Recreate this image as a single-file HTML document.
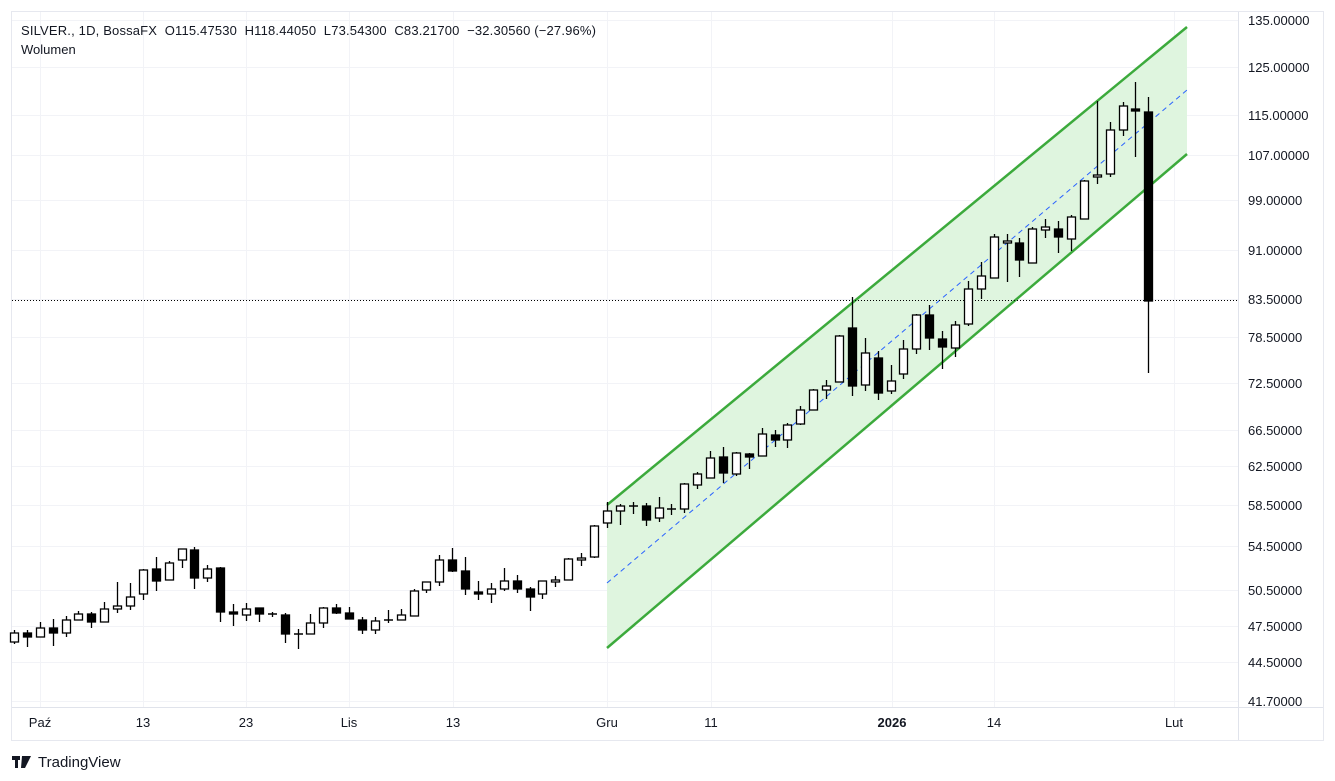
<!DOCTYPE html>
<html><head><meta charset="utf-8"><style>
body{margin:0;background:#fff;width:1335px;height:781px;overflow:hidden;font-family:"Liberation Sans",sans-serif}
svg{position:absolute;left:0;top:0}
</style></head><body>
<svg width="1335" height="781" xmlns="http://www.w3.org/2000/svg" id="s">
<rect x="11.5" y="11.5" width="1312" height="729" fill="#fff" stroke="#e6e8ef"/>
<g id="grid" stroke="#f2f3f7" stroke-width="1"></g>
<polygon points="607,505 1187,27 1187,154 607,648" fill="#dff5df"/>
<line x1="607" y1="505" x2="1187" y2="27" stroke="#3caa3c" stroke-width="2.5"/>
<line x1="607" y1="648" x2="1187" y2="154" stroke="#3caa3c" stroke-width="2.5"/>
<line x1="607" y1="583" x2="1187" y2="90" stroke="#2962ff" stroke-width="1" stroke-dasharray="5,4"/>
<line x1="12" y1="300.5" x2="1238" y2="300.5" stroke="#000" stroke-width="1" stroke-dasharray="1,2"/>
<g id="c"></g>
<line x1="1238.5" y1="12" x2="1238.5" y2="740" stroke="#e0e3eb"/>
<line x1="12" y1="707.5" x2="1323" y2="707.5" stroke="#e0e3eb"/>
<g font-size="13" fill="#131722" id="ax"></g>
<g font-size="13" fill="#131722">
<text x="40" y="727" text-anchor="middle">Paź</text>
<text x="143" y="727" text-anchor="middle">13</text>
<text x="246" y="727" text-anchor="middle">23</text>
<text x="349" y="727" text-anchor="middle">Lis</text>
<text x="453" y="727" text-anchor="middle">13</text>
<text x="607" y="727" text-anchor="middle">Gru</text>
<text x="711" y="727" text-anchor="middle">11</text>
<text x="892" y="727" text-anchor="middle" font-weight="bold">2026</text>
<text x="994" y="727" text-anchor="middle">14</text>
<text x="1174" y="727" text-anchor="middle">Lut</text>
<text x="21" y="35" style="white-space:pre" textLength="575" lengthAdjust="spacing">SILVER., 1D, BossaFX  O115.47530  H118.44050  L73.54300  C83.21700  −32.30560 (−27.96%)</text>
<text x="21" y="54">Wolumen</text>
</g>
<g fill="#131722"><rect x="12" y="756" width="8" height="4"/><rect x="15" y="756" width="3" height="12"/><path d="M22 756h9l-6 12h-4z"/><circle cx="24" cy="758" r="2"/></g>
<text x="38" y="767" font-size="15" fill="#131722">TradingView</text>
</svg>
<script>
const NS="http://www.w3.org/2000/svg";
function el(p,t,a){const e=document.createElementNS(NS,t);for(const k in a)e.setAttribute(k,a[k]);p.appendChild(e);return e;}
const ticks=[[135,20],[125,67],[115,115],[107,155],[99,200],[91,250],[83.5,299],[78.5,337],[72.5,383],[66.5,430],[62.5,466],[58.5,505],[54.5,546],[50.5,590],[47.5,626],[44.5,662],[41.7,701]];
const ax=document.getElementById('ax'),g=document.getElementById('grid');
ticks.forEach(([v,y])=>{el(g,'line',{x1:12,y1:y+.5,x2:1238,y2:y+.5});const t=el(ax,'text',{x:1248,y:y+5});t.textContent=v.toFixed(5);});
[40,143,246,349,453,607,711,892,994,1174].forEach(x=>el(g,'line',{x1:x+.5,y1:12,x2:x+.5,y2:707}));
const C=[
['W',633,642,630,644],['B',633,637,630,647],['W',628,637,622,637],['B',628,633,619,646],['W',620,633,616,637],['W',614,620,611,620],['B',614,622,612,628],['W',609,622,602,622],['W',606,609,582,613],['W',597,606,583,610],
['W',570,594,569,600],['B',569,581,557,591],['W',563,580,561,580],['W',549,560,549,568],['B',550,578,547,589],['W',569,578,565,582],['B',568,612,567,622],['B',612,614,604,626],['W',609,615,603,621],['B',608,614,608,622],
['D',614,614,612,617],['B',615,634,613,643],['D',634,634,629,649],['W',623,634,614,634],['W',608,623,607,628],['B',608,613,604,614],['B',613,619,607,619],['B',620,630,617,634],['W',621,630,617,634],['D',620,620,610,623],
['W',615,620,609,620],['W',591,616,589,616],['W',582,590,582,593],['W',560,582,555,586],['B',560,571,548,572],['B',571,589,557,595],['B',592,594,581,600],['W',589,594,583,603],['W',581,589,568,591],['B',581,589,575,593],
['B',589,597,587,611],['W',581,594,581,599],['W',580,582,576,587],['W',559,580,558,580],['W',558,560,553,566],['W',526,557,525,558],['W',511,523,502,528],['W',506,511,504,525],['D',506,506,502,514],['B',506,520,503,526],
['W',508,518,497,522],['D',509,509,504,515],['W',484,509,483,513],['W',474,485,472,489],['W',458,478,451,478],['B',457,473,447,483],['W',453,474,452,476],['B',454,457,453,469],['W',434,456,428,456],['B',435,440,430,447],
['W',425,440,423,448],['W',410,424,406,425],['W',390,410,389,410],['W',386,390,380,399],['W',336,382,335,382],['B',328,386,297,396],['W',353,385,338,391],['B',358,393,351,400],['W',381,391,365,394],['W',349,374,340,379],
['W',315,349,314,354],['B',315,338,305,350],['B',339,347,331,369],['W',325,348,321,357],['W',289,324,281,326],['W',276,289,262,299],['W',237,278,234,278],['W',241,243,234,282],['B',243,260,238,277],['W',229,263,227,263],
['W',227,230,219,238],['B',229,237,221,253],['W',217,239,215,251],['W',181,219,180,219],['W',175,177,101,184],['W',130,174,122,177],['W',106,130,102,136],['B',109,111,82,157],['B',112,301,97,373]];
const cg=document.getElementById('c');
C.forEach((c,i)=>{const x=Math.round(14+i*12.89)+.5;const [t,a,b,h,l]=c;
el(cg,'line',{x1:x,y1:h,x2:x,y2:l,stroke:'#000','stroke-width':1.3});
if(t==='D'){el(cg,'line',{x1:x-4.5,y1:a,x2:x+4.5,y2:a,stroke:'#000','stroke-width':1.5});}
else{const hh=Math.max(b-a,2);el(cg,'rect',{x:x-4,y:a,width:8,height:hh,fill:t==='B'?'#000':'#fff',stroke:'#000','stroke-width':1.3});}
});
</script>
</body></html>
